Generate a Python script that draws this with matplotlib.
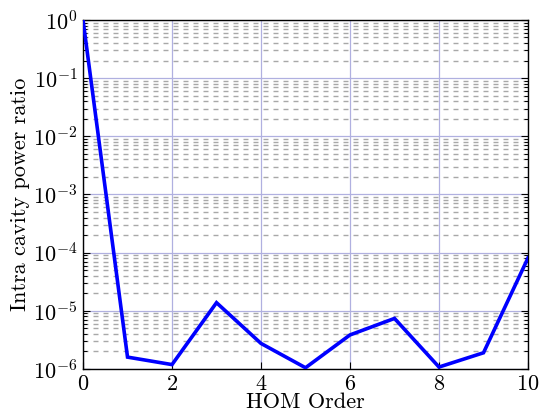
import matplotlib
matplotlib.use("Agg")
import matplotlib.pyplot as plt
from matplotlib.ticker import LogLocator, NullFormatter, FixedLocator

plt.rcParams['font.family'] = ['cmr10', 'DejaVu Serif']
plt.rcParams['mathtext.fontset'] = 'cm'
plt.rcParams['axes.formatter.use_mathtext'] = True

hom_order = [0, 1, 2, 3, 4, 5, 6, 7, 8, 9, 10]
power_ratio = [1.0, 1.6e-6, 1.19e-6, 1.38e-5, 2.75e-6, 1.05e-6,
               3.85e-6, 7.4e-6, 1.08e-6, 1.9e-6, 8.1e-5]
x_ticks = [0, 2, 4, 6, 8, 10]

fig = plt.figure(figsize=(5.52, 4.12), dpi=100)
ax = fig.add_axes([0.1504, 0.1044, 0.8061, 0.8471])

ax.semilogy(hom_order, power_ratio, color='#0000ff', lw=2.6, zorder=3,
            solid_joinstyle='miter')

ax.set_xlim(0, 10)
ax.set_ylim(1e-6, 1)
ax.xaxis.set_major_locator(FixedLocator(x_ticks))
ax.yaxis.set_major_locator(LogLocator(base=10, numticks=10))
ax.yaxis.set_minor_locator(LogLocator(base=10, subs=range(2, 10), numticks=20))
ax.yaxis.set_minor_formatter(NullFormatter())

ax.grid(which='major', color='#b0b0e0', lw=0.9, ls='-', zorder=1)
ax.grid(which='minor', axis='y', color='#a8a8a8', lw=1.0, ls=(0, (3.6, 3.6)), zorder=1)

ax.tick_params(which='both', direction='in', right=True, top=False)
ax.tick_params(which='major', length=5, width=0.8, labelsize=16, pad=4)
ax.tick_params(which='minor', length=3, width=0.7)
for sp in ax.spines.values():
    sp.set_linewidth(1.0)

ax.set_xlabel('HOM Order', fontsize=16, labelpad=-1)
ax.set_ylabel('Intra cavity power ratio', fontsize=16, labelpad=2)

fig.savefig('out.png', dpi=100)
